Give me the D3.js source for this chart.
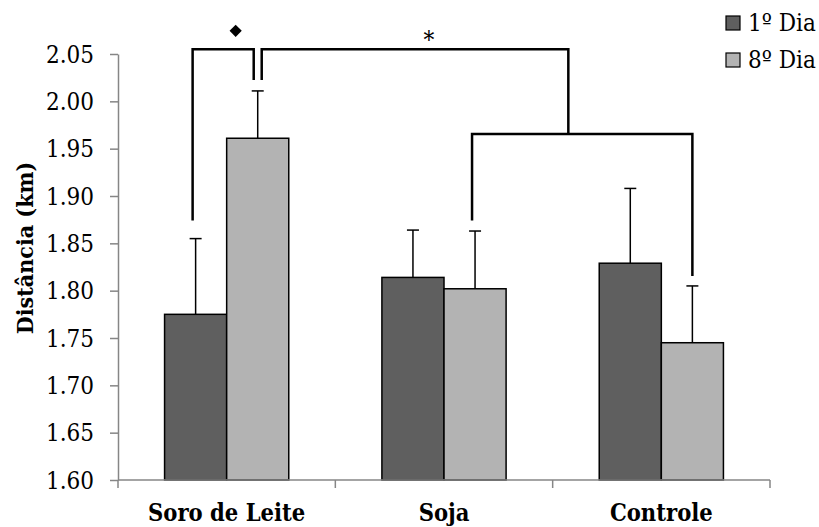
<!DOCTYPE html>
<html>
<head>
<meta charset="utf-8">
<script src="https://cdn.jsdelivr.net/npm/d3@7"></script>
<style>
  body { margin: 0; background: #fff; }
  text { font-family: "DejaVu Serif Condensed", "DejaVu Serif", serif; font-stretch: condensed; fill: #000; }
</style>
</head>
<body>
<div id="chart"></div>
<script>
const categories = ['Soro de Leite', 'Soja', 'Controle']
const seriesNames = ['1º Dia', '8º Dia']
const dia1 = [1.775, 1.814, 1.829]
const dia8 = [1.961, 1.802, 1.745]
const err1 = [0.080, 0.050, 0.079]
const err8 = [0.050, 0.061, 0.060]
const yTicks = [1.60, 1.65, 1.70, 1.75, 1.80, 1.85, 1.90, 1.95, 2.00, 2.05]
const colors = ['#5f5f5f', '#b3b3b3']

const W = 819, H = 527
const x0 = 118, x1 = 770, yTop = 54, yBase = 480

const svg = d3.select('#chart').append('svg')
    .attr('width', W).attr('height', H)

const x = d3.scaleBand().domain(categories).range([x0, x1]).paddingInner(0).paddingOuter(0)
const xs = d3.scaleBand().domain(seriesNames).range([0, x.bandwidth()]).paddingInner(0).paddingOuter(0.75)
const y = d3.scaleLinear().domain([1.60, 2.05]).range([yBase, yTop])

const rows = []
categories.forEach((c, i) => {
    rows.push({ cat: c, s: seriesNames[0], v: dia1[i], e: err1[i], col: colors[0] })
    rows.push({ cat: c, s: seriesNames[1], v: dia8[i], e: err8[i], col: colors[1] })
})
const cx = (c, s) => x(c) + xs(s) + xs.bandwidth() / 2

// error bars (upward only)
const eb = svg.append('g')
rows.forEach(d => {
    eb.append('line')
        .attr('x1', cx(d.cat, d.s)).attr('x2', cx(d.cat, d.s))
        .attr('y1', y(d.v)).attr('y2', y(d.v + d.e))
        .attr('stroke', '#000').attr('stroke-width', 1.5)
    eb.append('line')
        .attr('x1', cx(d.cat, d.s) - 6).attr('x2', cx(d.cat, d.s) + 6)
        .attr('y1', y(d.v + d.e)).attr('y2', y(d.v + d.e))
        .attr('stroke', '#000').attr('stroke-width', 1.5)
})

// bars
svg.append('g').selectAll('rect').data(rows).join('rect')
    .attr('x', d => x(d.cat) + xs(d.s))
    .attr('y', d => y(d.v))
    .attr('width', xs.bandwidth())
    .attr('height', d => yBase - y(d.v))
    .attr('fill', d => d.col)
    .attr('stroke', '#000').attr('stroke-width', 1.5)

// axes
const yAxis = svg.append('g')
    .attr('transform', 'translate(' + x0 + ',0)')
    .call(d3.axisLeft(y).tickValues(yTicks).tickFormat(d3.format('.2f')).tickSize(8).tickPadding(16).tickSizeOuter(0))
yAxis.selectAll('text').style('font-size', '24px').attr('dy', '0.34em')
yAxis.selectAll('line, path').attr('stroke', '#868686').attr('stroke-width', 1.5)

const xAxis = svg.append('g')
    .attr('transform', 'translate(0,' + yBase + ')')
xAxis.append('line').attr('x1', x0).attr('x2', x1).attr('y1', 0).attr('y2', 0)
    .attr('stroke', '#868686').attr('stroke-width', 1.5)
xAxis.selectAll('.tk').data(categories.concat(['end'])).join('line')
    .attr('class', 'tk')
    .attr('x1', (d, i) => i < categories.length ? x(d) : x1)
    .attr('x2', (d, i) => i < categories.length ? x(d) : x1)
    .attr('y1', 0).attr('y2', 8)
    .attr('stroke', '#868686').attr('stroke-width', 1.5)
xAxis.selectAll('.cl').data(categories).join('text')
    .attr('class', 'cl')
    .attr('x', d => x(d) + x.bandwidth() / 2)
    .attr('y', 41)
    .attr('text-anchor', 'middle')
    .style('font-size', '23.5px').style('font-weight', 'bold')
    .text(d => d)

svg.append('text')
    .attr('transform', 'translate(33,248) rotate(-90)')
    .attr('text-anchor', 'middle')
    .style('font-size', '23px').style('font-weight', 'bold')
    .text('Distância (km)')

// significance brackets
const topLvl = 2.055, midLvl = 1.9655
const xa = cx('Soro de Leite', '1º Dia') - 3
const xb = cx('Soro de Leite', '8º Dia')
const xc = cx('Soja', '8º Dia') - 3
const xd = cx('Controle', '8º Dia')
const xj = xc + 0.437 * (xd - xc)
const brackets = [
    [[xa, y(1.874)], [xa, y(topLvl)], [xb - 4, y(topLvl)], [xb - 4, y(2.0225)]],
    [[xb + 4, y(2.0225)], [xb + 4, y(topLvl)], [xj, y(topLvl)], [xj, y(midLvl)]],
    [[xc, y(1.874)], [xc, y(midLvl)], [xd, y(midLvl)], [xd, y(1.8155)]]
]
svg.append('g').selectAll('path').data(brackets).join('path')
    .attr('d', d3.line())
    .attr('fill', 'none').attr('stroke', '#000').attr('stroke-width', 2.5)

svg.append('path')
    .attr('d', d3.symbol(d3.symbolDiamond2, 95)())
    .attr('transform', 'translate(' + (x('Soro de Leite') + x.bandwidth() / 2 + 9) + ',' + y(2.0745) + ')')
    .attr('fill', '#000')
svg.append('text')
    .attr('x', x('Soja') + x.bandwidth() / 2 - 15)
    .attr('y', y(2.0565))
    .attr('text-anchor', 'middle')
    .style('font-size', '24px')
    .text('*')

// legend
const lg = svg.append('g').selectAll('g').data(seriesNames).join('g')
    .attr('transform', (d, i) => 'translate(726,' + (16 + i * 37) + ')')
lg.append('rect').attr('width', 14).attr('height', 14)
    .attr('fill', (d, i) => colors[i]).attr('stroke', '#000').attr('stroke-width', 1.2)
lg.append('text').attr('x', 22).attr('y', 15)
    .style('font-size', '24px')
    .text(d => d)
</script>
</body>
</html>
